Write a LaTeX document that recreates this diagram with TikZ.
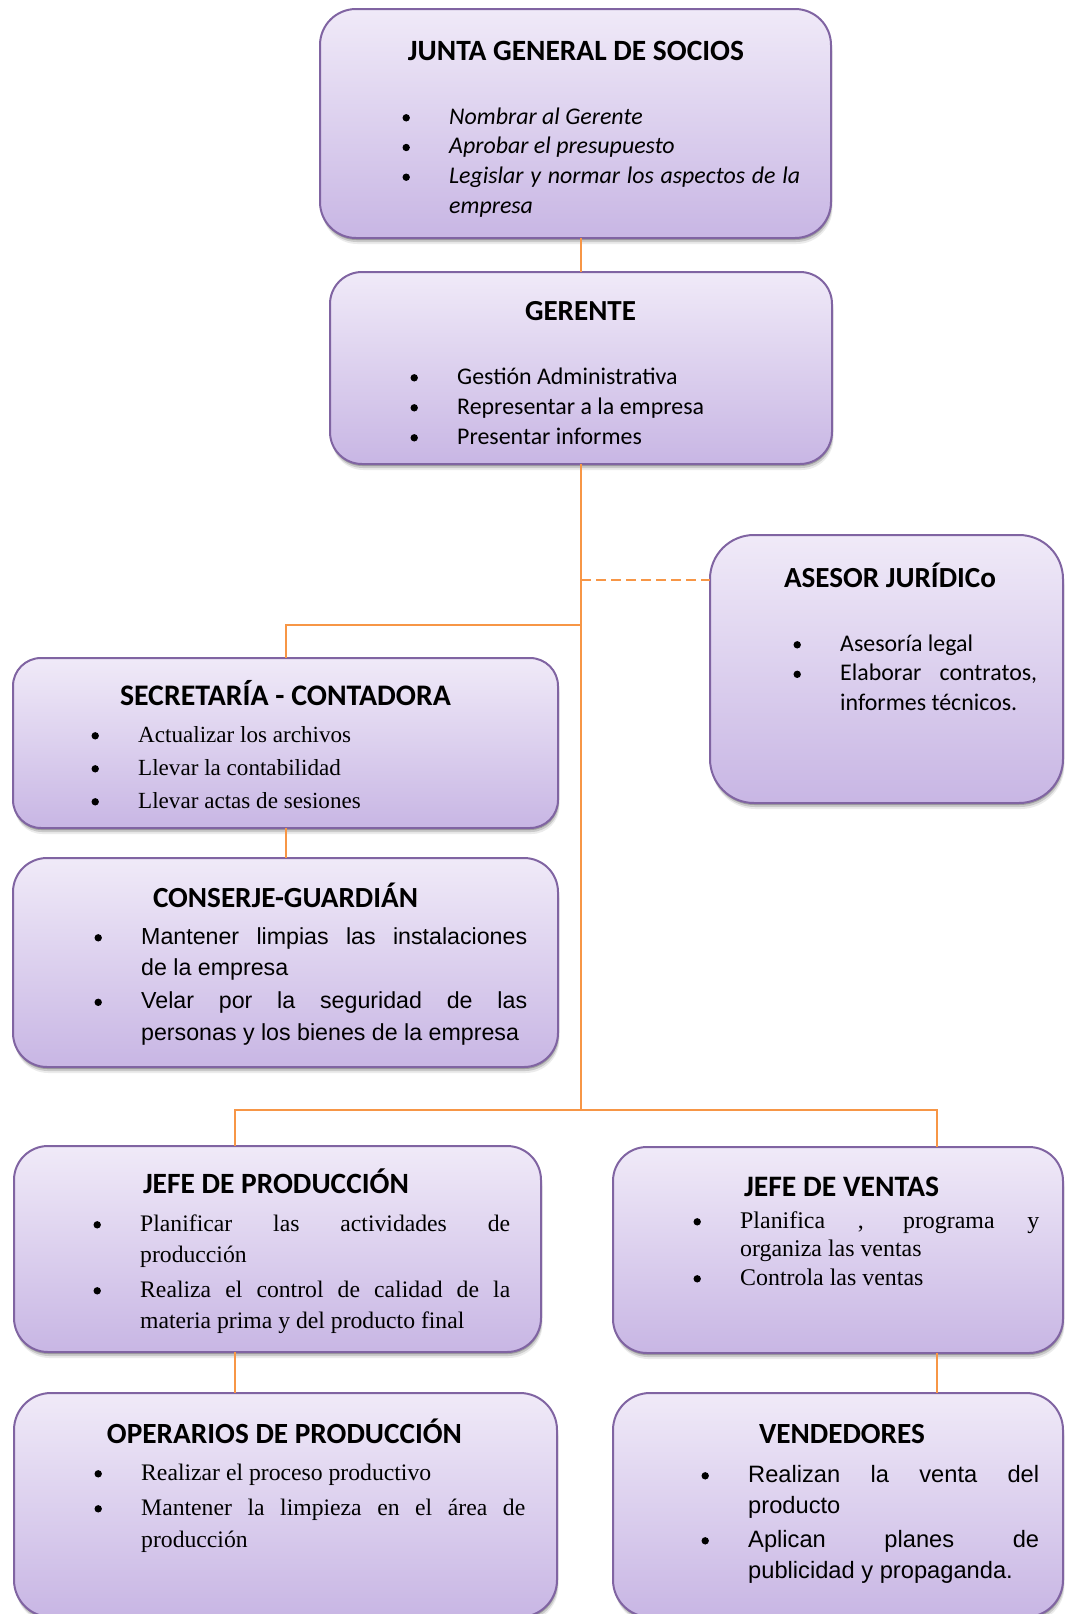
\documentclass[tikz,border=0pt]{standalone}
\usepackage{fontspec}
\usepackage{graphicx}
\setmainfont{Liberation Serif}
\newfontfamily\calibri{Carlito}
\newfontfamily\arial{Liberation Sans}
\usetikzlibrary{shadows}

% justified lists: never hyphenate, accept wide spaces
\hyphenpenalty=10000
\exhyphenpenalty=10000
\tolerance=10000
\hbadness=10000

\definecolor{boxtop}{RGB}{240,234,248}
\definecolor{boxbot}{RGB}{200,182,228}
\definecolor{boxline}{RGB}{128,100,162}
\definecolor{linkorange}{RGB}{247,150,70}

% round list bullet, zero width, sitting on the baseline
\newcommand\bdot{\tikz[baseline=0pt]{\path (0,0); \fill[overlay,black] (0pt,6.2pt) circle[radius=3.7pt];}}
% one list item: bullet hangs 43pt left of the text
\newcommand\itm[1]{\par\noindent\llap{\bdot\hspace{43pt}}#1}

\begin{document}
\begin{tikzpicture}[x=1pt,y=1pt,
  softshadow/.style={
    drop shadow={shadow xshift=0.5pt, shadow yshift=-2pt, opacity=0.22, fill=black},
    drop shadow={shadow xshift=1pt, shadow yshift=-4pt, opacity=0.14, fill=black},
    drop shadow={shadow xshift=1.5pt, shadow yshift=-6pt, opacity=0.08, fill=black}},
  box/.style={draw=boxline, line width=2pt, top color=boxtop, bottom color=boxbot,
    inner sep=0pt, outer sep=0pt, anchor=north west, softshadow},
  heading/.style={anchor=base, inner sep=0pt,
    font=\calibri\bfseries\fontsize{27.6pt}{30pt}\selectfont},
  duty/.style={anchor=base west, inner sep=0pt},
  link/.style={draw=linkorange, line width=2pt},
]
\useasboundingbox (0,0) rectangle (1065,-1614);

% ---- boxes ----
\node[box, minimum width=511pt, minimum height=229pt, rounded corners=36pt] (junta) at (320,-9) {};
\node[box, minimum width=502pt, minimum height=192pt, rounded corners=32pt] (gerente) at (330,-272) {};
\node[box, minimum width=353pt, minimum height=268pt, rounded corners=44pt] (asesor) at (710,-535) {};
\node[box, minimum width=545pt, minimum height=170pt, rounded corners=28pt] (secretaria) at (13,-658) {};
\node[box, minimum width=545pt, minimum height=209pt, rounded corners=34pt] (conserje) at (13,-858) {};
\node[box, minimum width=527pt, minimum height=206pt, rounded corners=34pt] (jefeprod) at (14,-1146) {};
\node[box, minimum width=543pt, minimum height=224pt, rounded corners=37pt] (operarios) at (14,-1393) {};
\node[box, minimum width=450pt, minimum height=206pt, rounded corners=34pt] (jefeventas) at (613,-1147) {};
\node[box, minimum width=450pt, minimum height=224pt, rounded corners=37pt] (vendedores) at (613,-1393) {};

% ---- connectors ----
\coordinate (hub) at (581,-1110);
\coordinate (tapSec) at (581,-625);
\coordinate (tapAse) at (581,-580);
\coordinate (busL) at (235,-1110);
\coordinate (busR) at (937,-1110);
\draw[link] (junta.south -| gerente.north) -- (gerente.north);
\draw[link] (gerente.south) -- (hub);
\draw[link] (tapSec) -| (secretaria.north);
\draw[link, dash pattern=on 10pt off 5pt] (tapAse) -- (tapAse -| asesor.west);
\draw[link] (secretaria.south) -- (conserje.north);
\draw[link] (busL |- jefeprod.north) -- (busL) -- (busR) -- (busR |- jefeventas.north);
\draw[link] (jefeprod.south -| busL) -- (operarios.north -| busL);
\draw[link] (jefeventas.south -| busR) -- (vendedores.north -| busR);

% ---- titles ----
\node[heading] (juntaT) at (576,-60) {\resizebox{336pt}{!}{JUNTA GENERAL DE SOCIOS}};
\node[heading] (gerenteT) at (580.5,-320) {\resizebox{111pt}{!}{GERENTE}};
\node[heading] (asesorT) at (890,-587) {\resizebox{212pt}{!}{ASESOR JURÍDICo}};
\node[heading] (secretariaT) at (285.5,-705) {\resizebox{331pt}{!}{SECRETARÍA - CONTADORA}};
\node[heading] (conserjeT) at (285.5,-907) {\resizebox{265pt}{!}{CONSERJE-GUARDIÁN}};
\node[heading] (jefeprodT) at (276,-1193) {\resizebox{266pt}{!}{JEFE DE PRODUCCIÓN}};
\node[heading] (operariosT) at (284.5,-1443) {\resizebox{355pt}{!}{OPERARIOS DE PRODUCCIÓN}};
\node[heading] (jefeventasT) at (841.5,-1196) {\resizebox{195pt}{!}{JEFE DE VENTAS}};
\node[heading] (vendedoresT) at (842,-1443) {\resizebox{166pt}{!}{VENDEDORES}};

% ---- duties ----
\node[duty, font=\calibri\itshape\fontsize{23.9pt}{29.7pt}\selectfont] (juntaL) at (449,-124)
  {\parbox[t]{351pt}{\itm{Nombrar al Gerente}\itm{Aprobar el presupuesto}\itm{Legislar y normar los aspectos de la\linebreak empresa}}};
\node[duty, font=\calibri\fontsize{23.9pt}{30pt}\selectfont] (gerenteL) at (457,-384)
  {\parbox[t]{340pt}{\itm{Gestión Administrativa}\itm{Representar a la empresa}\itm{Presentar informes}}};
\node[duty, font=\calibri\fontsize{23.9pt}{29.5pt}\selectfont] (asesorL) at (840,-651)
  {\parbox[t]{197pt}{\itm{Asesoría legal}\itm{Elaborar contratos,\linebreak informes técnicos.}}};
\node[duty, font=\fontsize{23.1pt}{33pt}\selectfont] (secretariaL) at (138,-742)
  {\parbox[t]{380pt}{\itm{Actualizar los archivos}\itm{Llevar la contabilidad}\itm{Llevar actas de sesiones}}};
\node[duty, font=\arial\fontsize{23.2pt}{31.5pt}\selectfont] (conserjeL) at (141,-944)
  {\parbox[t]{386pt}{\setlength\parskip{1.5pt}\itm{Mantener limpias las instalaciones\linebreak de la empresa}\itm{Velar por la seguridad de las\linebreak personas y los bienes de la empresa}}};
\node[duty, font=\fontsize{23.68pt}{31pt}\selectfont] (jefeprodL) at (140,-1231)
  {\parbox[t]{370pt}{\setlength\parskip{4pt}\itm{Planificar las actividades de\linebreak producción}\itm{Realiza el control de calidad de la\linebreak materia prima y del producto final}}};
\node[duty, font=\fontsize{23.68pt}{32pt}\selectfont] (operariosL) at (141,-1480)
  {\parbox[t]{384pt}{\setlength\parskip{3pt}\itm{Realizar el proceso productivo}\itm{Mantener la limpieza en el área de\linebreak producción}}};
\node[duty, font=\fontsize{23.9pt}{28.5pt}\selectfont] (jefeventasL) at (740,-1228)
  {\parbox[t]{299pt}{\itm{Planifica , programa y\linebreak organiza las ventas}\itm{Controla las ventas}}};
\node[duty, font=\arial\fontsize{23.68pt}{31pt}\selectfont] (vendedoresL) at (748,-1482)
  {\parbox[t]{291pt}{\setlength\parskip{3pt}\itm{Realizan la venta del\linebreak producto}\itm{Aplican planes de\linebreak publicidad y propaganda.}}};
\end{tikzpicture}
\end{document}
